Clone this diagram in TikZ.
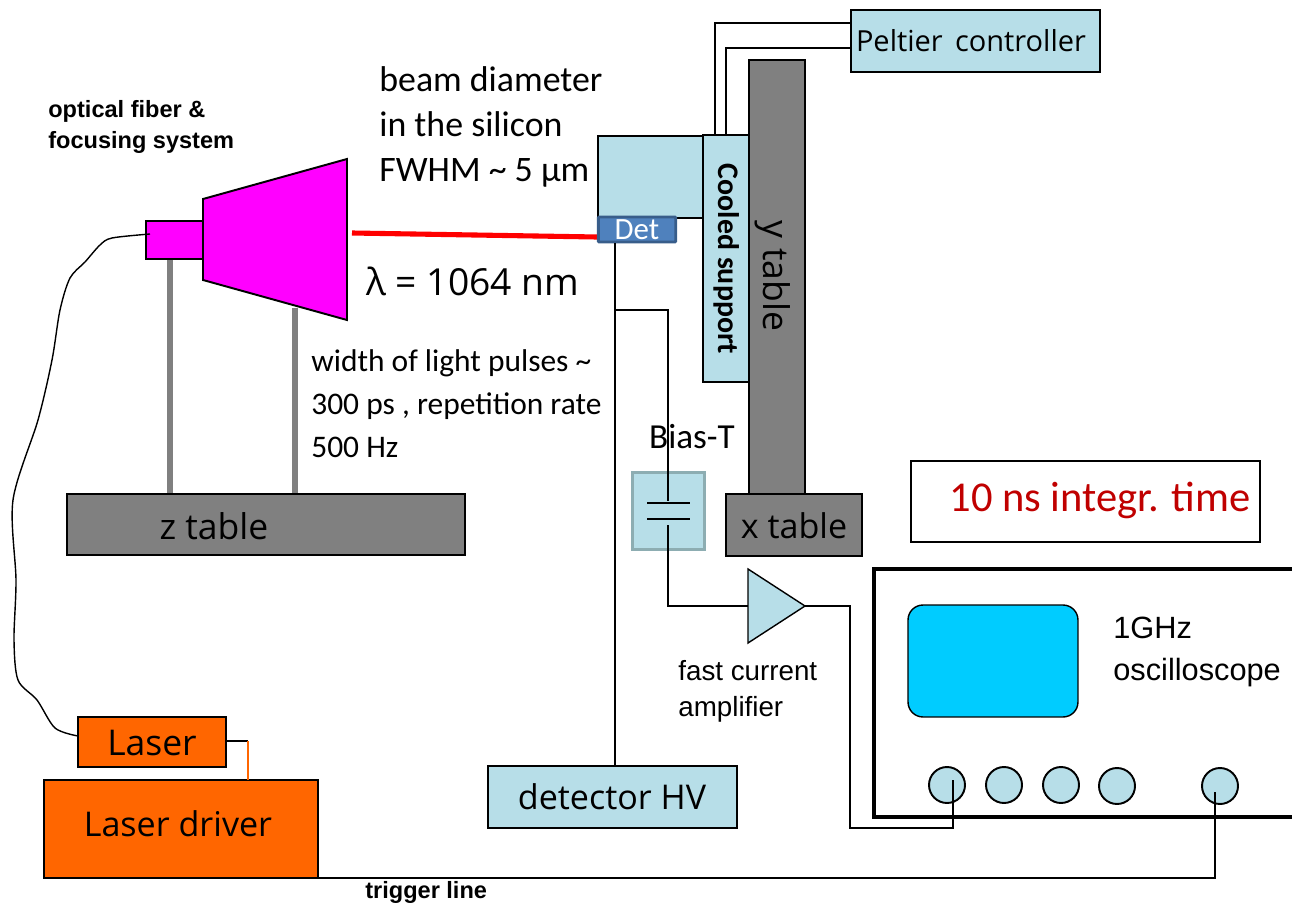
\documentclass[tikz,border=0pt]{standalone}
\usepackage{fontspec}
\setmainfont{Carlito}
\newfontfamily\arialfont{Liberation Sans}
\newfontfamily\noticefont{Open Sans}
\usetikzlibrary{calc}
\definecolor{PaleBlue}{HTML}{B7DEE8}
\definecolor{PaleBlueEdge}{HTML}{8DADB2}
\definecolor{Magenta}{HTML}{FF00FF}
\definecolor{LaserOrange}{HTML}{FF6600}
\definecolor{ScreenBlue}{HTML}{00CCFF}
\definecolor{TableGray}{HTML}{808080}
\definecolor{DetBlue}{HTML}{4F81BD}
\definecolor{DetEdge}{HTML}{385D8A}
\definecolor{NoteRed}{HTML}{C00000}
\tikzset{
  box/.style={draw=black,line width=1.1pt,inner sep=0pt,outer sep=0pt},
  tablebox/.style={box,fill=TableGray},
  paleblock/.style={box,fill=PaleBlue},
  laserbox/.style={box,fill=LaserOrange},
  socket/.style={circle,draw=black,line width=1.1pt,fill=PaleBlue,minimum size=0.72cm,inner sep=0pt,outer sep=0pt},
  wire/.style={draw=black,line width=0.8pt},
  post/.style={draw=TableGray,line width=3.4pt},
  bigtext/.style={font=\noticefont\fontsize{19.4}{23}\selectfont,inner sep=0pt},
  arialtext/.style={font=\arialfont\fontsize{15.8}{20.4}\selectfont,inner sep=0pt,align=left,anchor=west},
  noteline/.style={font=\fontsize{20.4}{25.8}\selectfont,inner sep=0pt,align=left,anchor=west},
  boldnote/.style={font=\arialfont\bfseries\fontsize{13.4}{18}\selectfont,inner sep=0pt,align=left,anchor=west}
}
\begin{document}
\begin{tikzpicture}[x=0.02cm,y=-0.02cm,>=stealth]
\useasboundingbox (0,0) rectangle (1292,906);
\coordinate (postAtop) at (170,259);
\coordinate (postAend) at (170,494);
\coordinate (postBtop) at (295,308);
\coordinate (postBend) at (295,494);
\draw[post] (postAtop) -- (postAend);
\draw[post] (postBtop) -- (postBend);
\node[box,fill=Magenta,minimum width=1.14cm,minimum height=0.76cm] (fiberbox) at (174.5,240) {};
\draw[box,fill=Magenta] (203,199) -- (347,159) -- (347,320) -- (203,280) -- cycle;
\node[tablebox,minimum width=7.96cm,minimum height=1.22cm] (ztable) at (266,524.5) {};
\node[bigtext,font=\noticefont\fontsize{20.2}{23}\selectfont] (ztext) at (214,526) {z table};
\node[tablebox,minimum width=1.12cm,minimum height=8.7cm] (ytable) at (777,277.5) {};
\node[bigtext,rotate=-90,font=\noticefont\fontsize{20.2}{23}\selectfont] (ytext) at (773,276) {y table};
\node[tablebox,minimum width=2.72cm,minimum height=1.24cm] (xtable) at (794,525) {};
\node[bigtext] (xtext) at (794,526) {x table};
\node[paleblock,minimum width=2.1cm,minimum height=1.64cm] (holder) at (650.5,177) {};
\node[paleblock,minimum width=0.92cm,minimum height=4.94cm] (cooled) at (726,258.5) {};
\node[inner sep=0pt,rotate=-90,font=\bfseries\fontsize{17}{19}\selectfont] (coolText) at (727,259) {Cooled support};
\node[paleblock,minimum width=4.98cm,minimum height=1.24cm] (peltier) at (975.5,41) {};
\node[inner sep=0pt,font=\noticefont\fontsize{16.5}{20}\selectfont] (peltText) at (971,41) {Peltier\, controller};
\coordinate (coolA) at (715,135);
\coordinate (coolB) at (726,135);
\coordinate (peltA) at (851,23);
\coordinate (peltB) at (851,48);
\draw[wire] (coolA) |- (peltA);
\draw[wire] (coolB) |- (peltB);
\coordinate (beamStart) at (352,233);
\coordinate (beamEnd) at (597,237);
\draw[draw=red,line width=2.9pt] (beamStart) -- (beamEnd);
\node[draw=DetEdge,fill=DetBlue,line width=1.7pt,rounded corners=0.6pt,minimum width=1.55cm,minimum height=0.5cm,inner sep=0pt,outer sep=0pt,text=white,font=\fontsize{17.6}{19}\selectfont] (det) at (637,229.5) {Det};
\node[paleblock,minimum width=4.98cm,minimum height=1.24cm] (hv) at (612.5,797) {};
\node[bigtext] (hvText) at (612,797) {detector HV};
\coordinate (detOut) at (615,243);
\coordinate (hvIn) at (615,766);
\draw[wire] (detOut) -- (hvIn);
\node[draw=PaleBlueEdge,fill=PaleBlue,line width=2.2pt,minimum width=1.44cm,minimum height=1.54cm,inner sep=0pt,outer sep=0pt] (biasT) at (668.5,511) {};
\coordinate (tapStart) at (615,310);
\coordinate (plateTop) at (668,501);
\coordinate (plateBottom) at (668,525);
\coordinate (plateAL) at (647,503);
\coordinate (plateAR) at (690,503);
\coordinate (plateBL) at (647,519);
\coordinate (plateBR) at (690,519);
\draw[wire] (tapStart) -| (plateTop);
\node[inner sep=0pt,font=\fontsize{20}{23}\selectfont] (biasText) at (692,437) {Bias-T};
\draw[wire] (plateAL) -- (plateAR);
\draw[wire] (plateBL) -- (plateBR);
\draw[box,fill=PaleBlue,line width=0.8pt] (748,569) coordinate (ampTop) -- (805,606) coordinate (ampOut) -- (748,643) coordinate (ampBottom) -- cycle;
\coordinate (ampIn) at (748,606);
\draw[wire] (plateBottom) |- (ampIn);
\node[arialtext] (ampText) at (678,691) {fast current\\amplifier};
\draw[box,line width=2.3pt] (874,569) rectangle (1310,817);
\node[draw=black,line width=0.8pt,fill=ScreenBlue,rounded corners=0.3cm,minimum width=3.4cm,minimum height=2.24cm,inner sep=0pt,outer sep=0pt] (screen) at (993,661) {};
\node[arialtext,font=\arialfont\fontsize{17.5}{24}\selectfont] (scopeText) at (1113,652) {1GHz\\oscilloscope};
\node[socket] (chA) at (947,785) {};
\node[socket] (chB) at (1004,785) {};
\node[socket] (chC) at (1061,785) {};
\node[socket] (chD) at (1117,786) {};
\node[socket] (chTrig) at (1220,786) {};
\coordinate (ampCorner) at (850,606);
\coordinate (chAin) at (953,780);
\coordinate (chAlow) at (953,828);
\coordinate (trigIn) at (1215,792);
\draw[wire] (ampOut) -- (ampCorner) |- (chAlow) -- (chAin);
\node[laserbox,minimum width=2.96cm,minimum height=1cm] (laser) at (152,742) {};
\node[bigtext,font=\noticefont\fontsize{20.2}{23}\selectfont] (laserText) at (152,743) {Laser};
\node[laserbox,minimum width=5.48cm,minimum height=1.96cm] (driver) at (181,829) {};
\node[bigtext] (driverText) at (178,824) {Laser driver};
\coordinate (laserOut) at (226,741);
\coordinate (linkCorner) at (248,741);
\coordinate (driverIn) at (248,780);
\draw[wire] (laserOut) -- (linkCorner);
\draw[draw=LaserOrange,line width=0.8pt] (linkCorner) -- (driverIn);
\coordinate (driverOut) at (318,878);
\draw[wire] (driverOut) -| (trigIn);
\coordinate (fiberEnd) at (150,234);
\coordinate (laserIn) at (78,736);
\draw[wire] plot[smooth,tension=0.5] coordinates {(fiberEnd) (112,238) (100,245) (85,262) (70,278) (60,310) (52,360) (38,420) (13,500) (16,580) (14,640) (18,680) (37,700) (55,728) (laserIn)};
\node[draw=black,line width=0.8pt,fill=white,minimum width=6.98cm,minimum height=1.62cm,inner sep=0pt,outer sep=0pt] (integr) at (1085.5,501.5) {};
\node[inner sep=0pt,text=NoteRed,font=\fontsize{24.2}{28}\selectfont] (integrText) at (1100,500) {10 ns integr. time};
\node[noteline] (beamText) at (379,127) {beam diameter\\in the silicon\\FWHM \textasciitilde{} 5 μm};
\node[inner sep=0pt,anchor=west,font=\noticefont\fontsize{21.2}{25}\selectfont] (lambdaText) at (366,281) {λ = 1064 nm};
\node[noteline,font=\fontsize{17.9}{24.4}\selectfont] (pulseText) at (311,404) {width of light pulses \textasciitilde\\300 ps , repetition rate\\500 Hz};
\node[boldnote] (fiberText) at (48,127) {optical fiber \&\\focusing system};
\node[boldnote] (triggerText) at (365,892) {trigger line};
\end{tikzpicture}
\end{document}
